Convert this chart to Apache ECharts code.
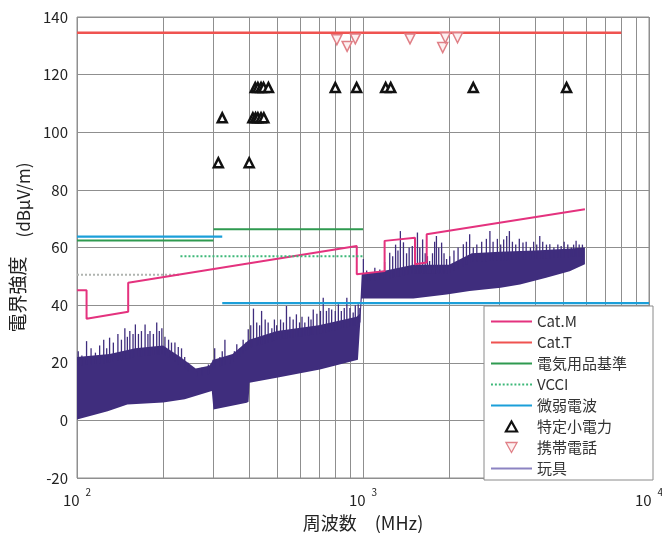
<!DOCTYPE html>
<html>
<head>
<meta charset="utf-8">
<script src="https://cdn.jsdelivr.net/npm/echarts@6/dist/echarts.min.js"></script>
<style>
  html, body { margin: 0; background: #fff; }
  #chart { width: 662px; height: 533px; }
</style>
</head>
<body>
<div id="chart"></div>
<script>
// frequencies in MHz, levels in dBuV/m
const xTicks = [100, 1000, 10000];
const minorGrid = [200, 300, 400, 500, 600, 700, 800, 900, 2000, 3000, 4000, 5000, 6000, 7000, 8000, 9000];

const catMFreq = [100, 108, 108, 151, 151, 951, 951, 1190, 1190, 1520, 1520, 1670, 1670, 5970];
const catMVal  = [45.2, 45.2, 35.3, 37.7, 47.8, 60.5, 50.7, 51.8, 62.3, 63.4, 54.2, 54.8, 64.6, 73.3];

const catTFreq = [100, 8000];
const catTVal  = [134.5, 134.5];

const denkiFreq = [100, 300, 300, 300, 1000];
const denkiVal  = [62.4, 62.4, null, 66.3, 66.3];

const vcciFreq = [230, 1000];
const vcciVal  = [57, 57];
const vcciLowFreq = [100, 230];
const vcciLowVal  = [50.5, 50.5];

const jakuFreq = [100, 322, 322, 322, 10000];
const jakuVal  = [63.8, 63.8, null, 40.7, 40.7];

const tokuteiFreq = [312, 400, 322, 412, 421, 429, 440, 450, 420, 429, 440, 449, 467, 800, 950, 1200, 1250, 2430, 5150];
const tokuteiVal  = [89.4, 89.4, 105, 105, 105, 105, 105, 105, 115.5, 115.5, 115.5, 115.5, 115.5, 115.5, 115.5, 115.5, 115.5, 115.5, 115.5];

const keitaiFreq = [810, 880, 940, 1460, 1900, 1940, 2140];
const keitaiVal  = [132.1, 129.8, 132.4, 132.4, 129.4, 132.8, 132.8];

// 玩具: dense band (top / floor) plus the spikes above it
const toyTopFreq = [100, 130, 160, 200, 230, 260, 290, 300, 350, 400, 500, 700, 950, 975, 990, 1200, 1500, 2000, 2400, 3000, 4000, 5000, 5970];
const toyTopVal  = [22, 23, 25, 26, 22, 18, 19, 21, 23, 28, 31, 33, 36, 37, 51, 52, 54, 54, 58, 58.5, 59, 59.5, 60];
const toyFloorFreq = [100, 128, 150, 200, 238, 296, 300, 392, 398, 401, 499, 707, 960, 990, 1500, 1960, 2360, 3030, 3540, 4370, 5280, 5970];
const toyFloorVal  = [0.3, 3.2, 5.5, 6.2, 7.3, 10.2, 3.8, 6.1, 6.5, 13.1, 14.8, 17.7, 21, 42.3, 42.3, 43.7, 44.9, 46, 47.2, 49.5, 51.8, 54.2];
const spikeFreq = [101, 104, 108, 112, 116, 120, 124, 127, 130, 134, 139, 143, 147, 150, 153, 157, 160, 164, 168, 173, 177, 180, 185, 190, 194, 198, 203, 209, 214, 220, 226, 232, 238, 245, 262, 273, 288, 299,
  303, 316, 322, 329, 343, 355, 362, 372, 381, 390, 397, 405, 414, 425, 435, 442, 455, 466, 480, 490, 499, 515, 527, 540, 555, 570, 585, 600, 612, 626, 645, 658, 670, 690, 710, 726, 745, 760, 777, 800, 820, 840, 860, 878, 900, 924, 940, 962, 975,
  1003, 1030, 1060, 1100, 1145, 1190, 1240, 1270, 1300, 1325, 1351, 1385, 1420, 1450, 1487, 1520, 1550, 1580, 1616, 1650, 1680, 1710, 1750, 1780, 1806, 1840, 1883, 1920, 1960, 2010,
  2080, 2150, 2243, 2300, 2360, 2430, 2500, 2600, 2700, 2778, 2850, 2950, 3030, 3103, 3180, 3250, 3330, 3420, 3520, 3625, 3720, 3850, 3950, 4050, 4150, 4250, 4380, 4500, 4650, 4800, 4930, 5050, 5200, 5350, 5450, 5560, 5700, 5850];
const spikePeak = [24, 22.5, 27.5, 25, 23.5, 26, 28, 25, 28.7, 27, 30, 28, 32, 29, 31, 30, 33.3, 30, 31, 33.3, 30, 31, 30, 34, 31, 32, 29, 28, 27, 27, 25.5, 25, 22, 20, 17, 18.3, 19.4, 21,
  25, 22, 24, 28, 21, 24, 26.4, 25, 28, 27, 31.6, 33, 38.8, 34, 33, 38, 35, 34, 32, 35, 33, 35, 34, 39.7, 36, 35, 36.8, 34, 36, 34, 36, 35, 38.5, 37, 38, 42.6, 38, 39, 38.5, 38, 40.3, 38, 39, 42.6, 39, 37.4, 40, 40.3, 39,
  56, 52, 51, 53, 52.4, 55, 58.2, 57, 61, 59, 65.7, 61.8, 58, 60, 60.5, 62, 65.2, 60, 62.8, 58, 57, 55.3, 58, 62, 64, 60, 61.7, 58, 56, 57,
  59, 60, 61.1, 62, 64.6, 60, 61, 62, 63, 65.7, 62, 63, 61, 62.8, 64, 65.7, 62, 61, 63, 61.7, 62, 60, 62, 61, 64, 62, 61, 61.1, 60, 61, 60.5, 62, 61, 60, 61, 62.3, 61, 61];

const legendNames = ['Cat.M', 'Cat.T', '電気用品基準', 'VCCI', '微弱電波', '特定小電力', '携帯電話', '玩具'];

const toyColor = '#3f2d7d';
const gridColor = '#8f8f8f';
const font = 'Noto Sans CJK JP';

// legend icons: plain line, dotted line, triangles
const solidIcon = 'path://M0,0H41V2H0Z';
let dotIcon = 'path://';
for (let x = 0; x < 41; x += 4) dotIcon += 'M' + x + ',0h2v2h-2Z';
const upIcon = 'path://M5,0L10,9L0,9Z';
const downIcon = 'path://M0,0L10,0L5,9Z';

function pairs(freqs, vals) {
  return freqs.map((f, i) => [f, vals[i] == null ? '-' : vals[i]]);
}

function lineSeries(name, freqs, vals, color, width, type) {
  return {
    type: 'line', name: name, data: pairs(freqs, vals),
    symbol: 'none', silent: true, z: 4,
    lineStyle: { color: color, width: width, type: type || 'solid' },
    itemStyle: { color: color }
  };
}

// foot of a spike: band top at that frequency
function topAt(f) {
  const lf = Math.log10(f);
  for (let i = 1; i < toyTopFreq.length; i++) {
    if (f <= toyTopFreq[i]) {
      const a = Math.log10(toyTopFreq[i - 1]), b = Math.log10(toyTopFreq[i]);
      return toyTopVal[i - 1] + (toyTopVal[i] - toyTopVal[i - 1]) * (lf - a) / (b - a);
    }
  }
  return toyTopVal[toyTopVal.length - 1];
}

const legendData = legendNames.map(n => {
  if (n === '特定小電力') return { name: n, icon: upIcon, itemStyle: { borderWidth: 2.2 } };
  if (n === '携帯電話') return { name: n, icon: downIcon, itemStyle: { borderWidth: 1.3 }, symbolRotate: 0 };
  if (n === 'VCCI') return { name: n, icon: dotIcon, itemStyle: { borderWidth: 0 } };
  return { name: n, icon: solidIcon, itemStyle: { borderWidth: 0 } };
});

const chart = echarts.init(document.getElementById('chart'));

chart.setOption({
  animation: false,
  backgroundColor: '#fff',
  grid: { left: 77, right: 13, top: 17, bottom: 55, show: true, borderColor: gridColor, borderWidth: 1, outerBoundsMode: 'none' },
  xAxis: {
    type: 'log', logBase: 10, min: xTicks[0], max: xTicks[xTicks.length - 1],
    axisLine: { show: false }, axisTick: { show: false },
    splitLine: { show: true, lineStyle: { color: gridColor, width: 1 } },
    axisLabel: {
      margin: 9, color: '#222', fontFamily: font,
      formatter: v => '{m|10}{e|' + Math.round(Math.log10(v)) + '}',
      rich: {
        m: { fontSize: 15, fontFamily: font, color: '#222' },
        e: { fontSize: 10, fontFamily: font, color: '#222', padding: [0, 0, 16, 6] }
      }
    },
    name: '周波数　(MHz)', nameLocation: 'middle', nameGap: 36,
    nameTextStyle: { fontSize: 18, color: '#222', fontFamily: font }
  },
  yAxis: {
    type: 'value', min: -20, max: 140, interval: 20,
    axisLine: { show: false }, axisTick: { show: false },
    splitLine: { lineStyle: { color: gridColor, width: 1 } },
    axisLabel: { fontSize: 15, color: '#222', margin: 9, fontFamily: font },
    name: '{a|電界強度　}{b|(dBμV/m)}', nameLocation: 'middle', nameRotate: 90, nameGap: 30,
    nameTextStyle: {
      color: '#222', fontFamily: font,
      rich: {
        a: { fontSize: 19, color: '#222', fontFamily: font, padding: [0, 0, 12, 0] },
        b: { fontSize: 17, color: '#222', fontFamily: font }
      }
    }
  },
  legend: {
    orient: 'vertical', left: 484, top: 306,
    data: legendData,
    itemWidth: 41, itemHeight: 10, itemGap: 6,
    padding: [8, 26, 4, 7],
    backgroundColor: '#fff', borderColor: '#8a8a8a', borderWidth: 1,
    selectedMode: false,
    textStyle: { fontSize: 15, color: '#333', fontFamily: font }
  },
  series: [
    {
      type: 'custom', name: 'minor grid', silent: true, z: 0,
      data: minorGrid.map(f => [f, 0]),
      renderItem: (params, api) => {
        const cs = params.coordSys;
        const x = Math.round(api.coord([api.value(0), 0])[0]) + 0.5;
        return { type: 'line', shape: { x1: x, y1: cs.y, x2: x, y2: cs.y + cs.height },
          style: { stroke: gridColor, lineWidth: 1 } };
      }
    },
    {
      type: 'custom', name: '玩具 band', silent: true, z: 1,
      data: [[toyTopFreq[0], toyTopVal[0]]],
      renderItem: (params, api) => {
        const pts = toyTopFreq.map((f, i) => api.coord([f, toyTopVal[i]]));
        for (let i = toyFloorFreq.length - 1; i >= 0; i--) pts.push(api.coord([toyFloorFreq[i], toyFloorVal[i]]));
        return { type: 'polygon', shape: { points: pts }, style: { fill: toyColor } };
      }
    },
    {
      type: 'custom', name: '玩具 spikes', silent: true, z: 1,
      data: spikeFreq.map((f, i) => [f, spikePeak[i]]),
      renderItem: (params, api) => {
        const f = api.value(0);
        const p1 = api.coord([f, api.value(1)]);
        const p2 = api.coord([f, topAt(f) - 3]);
        return { type: 'line', shape: { x1: p1[0], y1: p1[1], x2: p2[0], y2: p2[1] },
          style: { stroke: toyColor, lineWidth: 1.3 } };
      }
    },
    lineSeries('VCCI low', vcciLowFreq, vcciLowVal, '#b0b4b0', 2, 'dotted'),
    lineSeries('Cat.M', catMFreq, catMVal, '#e4327e', 2),
    lineSeries('Cat.T', catTFreq, catTVal, '#ef5350', 2.5),
    lineSeries('電気用品基準', denkiFreq, denkiVal, '#2f9a50', 2),
    lineSeries('VCCI', vcciFreq, vcciVal, '#3cb878', 2, 'dotted'),
    lineSeries('微弱電波', jakuFreq, jakuVal, '#1b9fd9', 2.2),
    {
      type: 'scatter', name: '特定小電力', data: pairs(tokuteiFreq, tokuteiVal),
      symbol: 'triangle', symbolSize: 9, z: 5, silent: true,
      itemStyle: { color: '#fff', borderColor: '#111', borderWidth: 2.5, opacity: 1 }
    },
    {
      type: 'scatter', name: '携帯電話', data: pairs(keitaiFreq, keitaiVal),
      symbol: 'triangle', symbolRotate: 180, symbolSize: 10, z: 5, silent: true,
      itemStyle: { color: '#fdf0f0', borderColor: '#e07f86', borderWidth: 1.5, opacity: 1 }
    },
    lineSeries('玩具', [], [], '#8c83c2', 2)
  ]
});
</script>
</body>
</html>
